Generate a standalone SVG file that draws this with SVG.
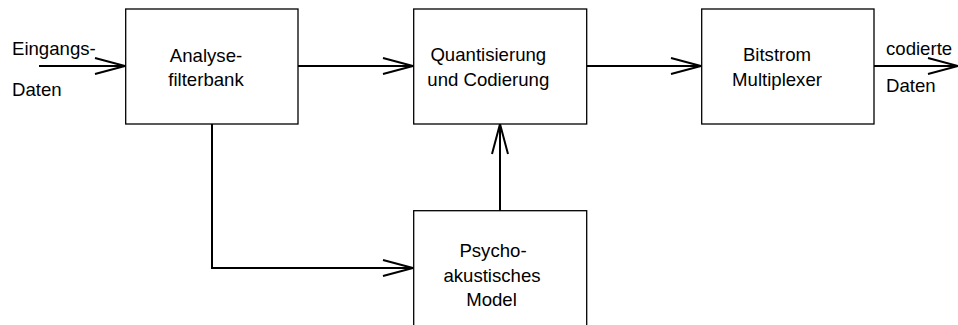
<svg xmlns="http://www.w3.org/2000/svg" width="958" height="325" viewBox="0 0 958 325">
<style>
.box{fill:#fff;stroke:#000;stroke-width:1.3}
.ln{fill:none;stroke:#000;stroke-width:2}
text{font-family:"Liberation Sans",Arial,sans-serif;font-size:18.6px;fill:#000}
.c{text-anchor:middle}
</style>
<defs>
<marker id="ah" markerUnits="userSpaceOnUse" viewBox="-32 -10 34 20" refX="0" refY="0" markerWidth="34" markerHeight="20" orient="auto">
<path d="M-30,-8 L0,0 L-30,8" fill="none" stroke="#000" stroke-width="2"/>
</marker>
</defs>
<rect width="958" height="325" fill="#fff"/>
<g id="connectors">
<line class="ln" x1="39" y1="66" x2="125" y2="66" marker-end="url(#ah)"/>
<line class="ln" x1="298" y1="66" x2="413" y2="66" marker-end="url(#ah)"/>
<line class="ln" x1="587" y1="66" x2="701" y2="66" marker-end="url(#ah)"/>
<line class="ln" x1="874" y1="66" x2="958" y2="66" marker-end="url(#ah)"/>
<polyline class="ln" points="212,124 212,268 413,268" marker-end="url(#ah)"/>
<line class="ln" x1="500" y1="211" x2="500" y2="124" marker-end="url(#ah)"/>
</g>
<g id="input-label">
<text x="12" y="55">Eingangs-</text>
<text x="12" y="96">Daten</text>
</g>
<g id="analyse">
<rect class="box" x="125.7" y="9" width="172.3" height="115"/>
<text class="c" x="206" y="62">Analyse-</text>
<text class="c" x="206" y="86">filterbank</text>
</g>
<g id="quant">
<rect class="box" x="413.7" y="9" width="173" height="115"/>
<text class="c" x="488.3" y="61">Quantisierung</text>
<text class="c" x="488.3" y="86">und Codierung</text>
</g>
<g id="mux">
<rect class="box" x="701.7" y="9" width="172.3" height="115"/>
<text class="c" x="777" y="61">Bitstrom</text>
<text class="c" x="777" y="86">Multiplexer</text>
</g>
<g id="output-label">
<text x="886" y="55">codierte</text>
<text x="886" y="92">Daten</text>
</g>
<g id="psycho">
<rect class="box" x="413.7" y="210.7" width="173" height="130"/>
<text class="c" x="493" y="257">Psycho-</text>
<text class="c" x="492" y="282">akustisches</text>
<text class="c" x="491.5" y="306">Model</text>
</g>
</svg>
